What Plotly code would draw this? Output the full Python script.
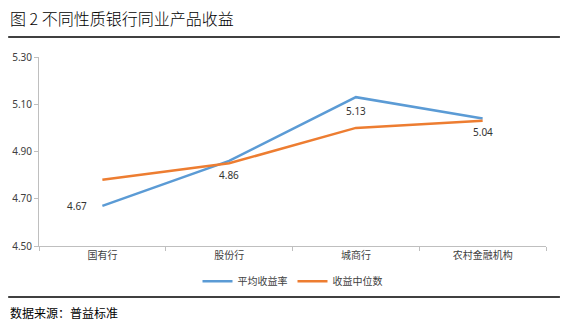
import plotly.graph_objects as go

categories = ["国有行", "股份行", "城商行", "农村金融机构"]
avg_yield = [4.67, 4.86, 5.13, 5.04]
median_yield = [4.78, 4.85, 5.00, 5.03]
avg_labels = ["4.67", "4.86", "5.13", "5.04"]
y_ticks = [4.50, 4.70, 4.90, 5.10, 5.30]

W, H = 570, 330
L, R, T, B = 36, 24, 57, 84
PW, PH = W - L - R, H - T - B

fig = go.Figure()
fig.add_trace(go.Scatter(
    x=categories, y=avg_yield, mode="lines", name="平均收益率",
    line=dict(color="#5B9BD5", width=2.5),
))
fig.add_trace(go.Scatter(
    x=categories, y=median_yield, mode="lines", name="收益中位数",
    line=dict(color="#ED7D31", width=2.5),
))

annotations = []
for i, (c, v, t) in enumerate(zip(categories, avg_yield, avg_labels)):
    if i == 0:
        annotations.append(dict(x=c, y=v, xref="x", yref="y", text=t, showarrow=False,
                                xanchor="right", yanchor="middle", xshift=-13,
                                font=dict(size=10, color="#333333", family="Noto Sans")))
    else:
        annotations.append(dict(x=c, y=v, xref="x", yref="y", text=t, showarrow=False,
                                xanchor="center", yanchor="middle", yshift=-14,
                                font=dict(size=10, color="#333333", family="Noto Sans")))

annotations += [
    dict(text="图 2 不同性质银行同业产品收益", xref="paper", yref="paper",
         x=(5 - L) / PW, y=1 + (T - 18) / PH,
         xanchor="left", yanchor="middle", showarrow=False,
         font=dict(size=16, color="black", family="Noto Sans CJK SC", weight=300)),
    dict(text="数据来源：普益标准", xref="paper", yref="paper",
         x=(5 - L) / PW, y=-(312 - (H - B)) / PH,
         xanchor="left", yanchor="middle", showarrow=False,
         font=dict(size=12, color="black", family="Noto Sans CJK SC")),
]

fig.update_layout(
    width=W, height=H,
    margin=dict(l=L, r=R, t=T, b=B),
    paper_bgcolor="white", plot_bgcolor="white",
    font=dict(family="Noto Sans CJK SC", size=10, color="#404040"),
    showlegend=True,
    legend=dict(orientation="h", x=0.5, xanchor="center", y=-0.11, yanchor="top",
                bgcolor="rgba(0,0,0,0)",
                font=dict(size=10, color="#404040")),
    xaxis=dict(type="category", range=[-0.5, len(categories) - 0.5],
               showgrid=False, showline=True, linecolor="#BFBFBF",
               linewidth=1, ticks="outside", tickson="boundaries", ticklen=4,
               tickcolor="#BFBFBF", tickfont=dict(size=10, color="#404040"),
               zeroline=False),
    yaxis=dict(range=[4.50, 5.30], tickvals=y_ticks, tickformat=".2f",
               showgrid=False, showline=True, linecolor="#BFBFBF", linewidth=1,
               ticks="outside", ticklen=4, tickcolor="#BFBFBF",
               tickfont=dict(size=10, color="#404040", family="Noto Sans"),
               zeroline=False),
    annotations=annotations,
    shapes=[
        dict(type="line", xref="paper", yref="paper",
             x0=(5 - L) / PW, x1=(560 - L) / PW,
             y0=1 + (T - 37) / PH, y1=1 + (T - 37) / PH,
             line=dict(color="black", width=1.5)),
        dict(type="line", xref="paper", yref="paper",
             x0=(5 - L) / PW, x1=(560 - L) / PW,
             y0=-(297 - (H - B)) / PH, y1=-(297 - (H - B)) / PH,
             line=dict(color="black", width=1.5)),
    ],
)

fig.write_html("out.html")
